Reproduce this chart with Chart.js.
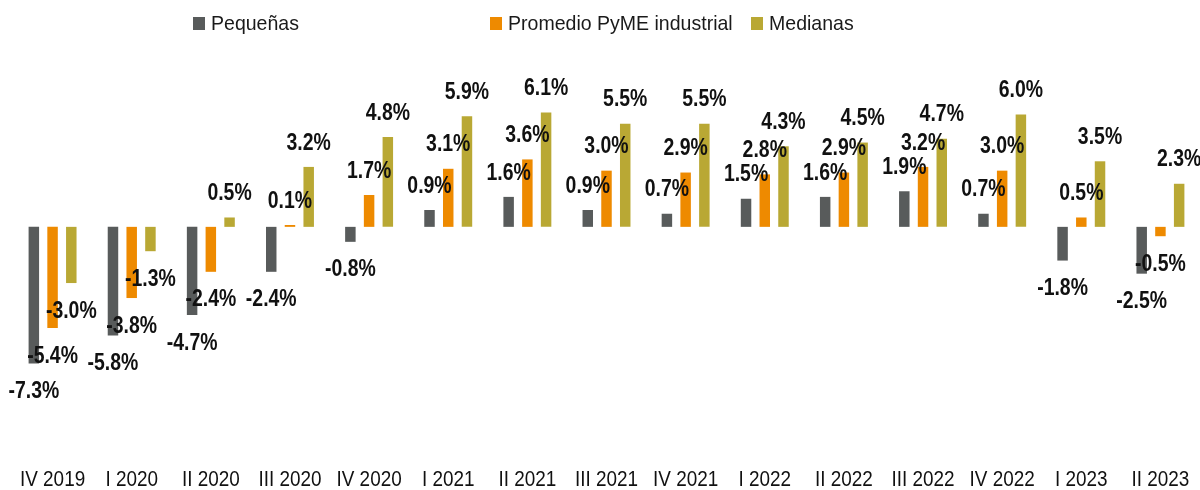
<!DOCTYPE html>
<html lang="es">
<head>
<meta charset="utf-8">
<title>PyME industrial</title>
<script src="https://cdn.jsdelivr.net/npm/chart.js@4/dist/chart.umd.min.js"></script>
<style>
  html, body { margin: 0; padding: 0; background: #fff; }
  #wrap { position: relative; width: 1200px; height: 490px; }
</style>
</head>
<body>
<div id="wrap"><canvas id="chart"></canvas></div>
<script>
// ── DATA ──────────────────────────────────────────────────────────────────────

const QUARTERS = ['IV 2019', 'I 2020', 'II 2020', 'III 2020', 'IV 2020', 'I 2021', 'II 2021', 'III 2021',
                  'IV 2021', 'I 2022', 'II 2022', 'III 2022', 'IV 2022', 'I 2023', 'II 2023'];

const PEQUENAS = [-7.3, -5.8, -4.7, -2.4, -0.8, 0.9, 1.6, 0.9, 0.7, 1.5, 1.6, 1.9, 0.7, -1.8, -2.5];
const PROMEDIO = [-5.4, -3.8, -2.4,  0.1,  1.7, 3.1, 3.6, 3.0, 2.9, 2.8, 2.9, 3.2, 3.0,  0.5, -0.5];
const MEDIANAS = [-3.0, -1.3,  0.5,  3.2,  4.8, 5.9, 6.1, 5.5, 5.5, 4.3, 4.5, 4.7, 6.0,  3.5,  2.3];

const SERIES_NAMES = ['Pequeñas', 'Promedio PyME industrial', 'Medianas'];

// ── STYLE ─────────────────────────────────────────────────────────────────────

const COLORS = ['#585B5B', '#EE8A00', '#B9A834'];
const FONT = "'Liberation Sans', Arial, sans-serif";

// no narrow font installed, so condense Liberation Sans by hand
function narrowText(ctx, text, x, y, squeeze) {
  ctx.save();
  ctx.translate(x, y);
  ctx.scale(squeeze, 1);
  ctx.fillText(text, 0, 0);
  ctx.restore();
}

// ── PLUGINS ───────────────────────────────────────────────────────────────────

const valueLabels = {
  id: 'valueLabels',
  afterDatasetsDraw(chart) {
    const ctx = chart.ctx;
    ctx.save();
    ctx.font = 'bold 24px ' + FONT;
    ctx.fillStyle = '#111';
    ctx.textAlign = 'center';
    ctx.textBaseline = 'middle';
    chart.data.datasets.forEach((ds, di) => {
      chart.getDatasetMeta(di).data.forEach((bar, i) => {
        const v = ds.data[i];
        const y = v >= 0 ? bar.y - 24 : bar.y + 28;
        narrowText(ctx, v.toFixed(1) + '%', bar.x, y, 0.81);
      });
    });
    ctx.restore();
  }
};

const categoryLabels = {
  id: 'categoryLabels',
  afterDraw(chart, args, opts) {
    const ctx = chart.ctx;
    const xs = chart.scales.x;
    ctx.save();
    ctx.font = '22px ' + FONT;
    ctx.fillStyle = '#111';
    ctx.textAlign = 'center';
    ctx.textBaseline = 'middle';
    chart.data.labels.forEach((lab, i) => {
      narrowText(ctx, lab, xs.getPixelForTick(i), opts.y, 0.86);
    });
    ctx.restore();
  }
};

const topLegend = {
  id: 'topLegend',
  afterDraw(chart, args, opts) {
    const ctx = chart.ctx;
    ctx.save();
    ctx.font = '21px ' + FONT;
    ctx.textBaseline = 'middle';
    ctx.textAlign = 'left';
    chart.data.datasets.forEach((ds, di) => {
      const x = opts.xs[di];
      ctx.fillStyle = ds.backgroundColor;
      ctx.fillRect(x, opts.y - 6, 12, 13);
      ctx.fillStyle = '#1a1a1a';
      narrowText(ctx, ds.label, x + 18, opts.y + 1, 0.93);
    });
    ctx.restore();
  }
};

// ── CHART ─────────────────────────────────────────────────────────────────────

const seriesData = [PEQUENAS, PROMEDIO, MEDIANAS];

new Chart(document.getElementById('chart'), {
  type: 'bar',
  data: {
    labels: QUARTERS,
    datasets: seriesData.map((d, i) => ({
      label: SERIES_NAMES[i],
      data: d,
      backgroundColor: COLORS[i],
      categoryPercentage: 0.71,
      barPercentage: 0.56,
    })),
  },
  options: {
    responsive: true,
    maintainAspectRatio: false,
    animation: false,
    layout: { padding: { top: 77, left: 13, right: 0, bottom: 29 } },
    plugins: {
      legend: { display: false },
      tooltip: { enabled: false },
      topLegend: { xs: [193, 490, 751], y: 23 },
      categoryLabels: { y: 480 },
    },
    scales: {
      x: { display: false },
      y: { display: false, min: -12.5, max: 8 },
    },
  },
  plugins: [valueLabels, categoryLabels, topLegend],
});
</script>
</body>
</html>
